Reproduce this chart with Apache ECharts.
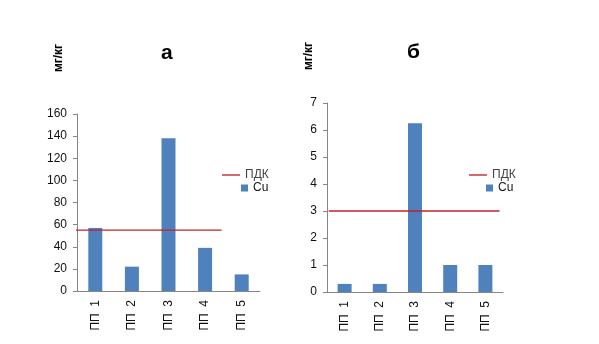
<!DOCTYPE html>
<html>
<head>
<meta charset="utf-8">
<script src="https://cdn.jsdelivr.net/npm/echarts@6/dist/echarts.min.js"></script>
<style>
  html, body { margin: 0; padding: 0; background: #fff; }
  #chartBox { width: 599px; height: 344px; }
</style>
</head>
<body>
<div id="chartBox"></div>
<script>
// категории и значения
var categories = ['ПП  1', 'ПП  2', 'ПП  3', 'ПП  4', 'ПП  5']
var cuA = [57, 22, 138, 39, 15]
var cuB = [0.3, 0.3, 6.25, 1, 1]
var pdkA = 55
var pdkB = 3
// протяжённость линии ПДК в долях категорий
var pdkSpanA = [-0.15, 3.95]
var pdkSpanB = [0.05, 4.9]

var font = '"Liberation Sans", Arial, sans-serif'
var axisColor = '#868686'
var barColor = '#4F81BD'
var lineColor = '#C0202A'

function valueAxis(grid, max, interval) {
  return {
    type: 'value',
    gridIndex: grid,
    min: 0,
    max: max,
    interval: interval,
    splitLine: { show: false },
    axisLine: { show: true, lineStyle: { color: axisColor } },
    axisTick: { show: true, length: 4, lineStyle: { color: axisColor } },
    axisLabel: { fontFamily: font, fontSize: 12, color: '#111', margin: 10 }
  }
}

function catAxis(grid) {
  return {
    type: 'category',
    gridIndex: grid,
    data: categories,
    axisLine: { lineStyle: { color: axisColor } },
    axisTick: { length: 5, lineStyle: { color: axisColor } },
    axisLabel: { rotate: 90, fontFamily: font, fontSize: 12, color: '#111', margin: 9 }
  }
}

function hiddenAxis(grid) {
  return { type: 'value', gridIndex: grid, min: 0, max: 5, show: false }
}

var myChart = echarts.init(document.getElementById('chartBox'))
myChart.setOption({
  animation: false,
  title: [
    { text: 'а', left: 156, top: 38, textStyle: { fontFamily: font, fontSize: 21, fontWeight: 'bold', color: '#000' } },
    { text: 'б', left: 402, top: 37, textStyle: { fontFamily: font, fontSize: 21, fontWeight: 'bold', color: '#000' } }
  ],
  graphic: [
    { type: 'text', x: 59, y: 58, rotation: Math.PI / 2,
      style: { text: 'мг/кг', fontFamily: font, fontSize: 12, fontWeight: 'bold', fill: '#000', align: 'center', verticalAlign: 'middle' } },
    { type: 'text', x: 309, y: 56, rotation: Math.PI / 2,
      style: { text: 'мг/кг', fontFamily: font, fontSize: 12, fontWeight: 'bold', fill: '#000', align: 'center', verticalAlign: 'middle' } }
  ],
  legend: [
    { left: 217, top: 164, data: ['ПДК'], icon: 'path://M0,0 L20,0 L20,1.5 L0,1.5 Z', itemWidth: 18, itemHeight: 1.5, itemGap: 4,
      textStyle: { fontFamily: font, fontSize: 12, color: '#444' } },
    { left: 236, top: 177, data: ['Cu'], icon: 'rect', itemWidth: 7, itemHeight: 7, itemGap: 4,
      textStyle: { fontFamily: font, fontSize: 12, color: '#111' } },
    { left: 464, top: 164, data: ['ПДК '], icon: 'path://M0,0 L20,0 L20,1.5 L0,1.5 Z', itemWidth: 18, itemHeight: 1.5, itemGap: 4,
      formatter: function (n) { return n.trim() },
      textStyle: { fontFamily: font, fontSize: 12, color: '#444' } },
    { left: 481, top: 177, data: ['Cu '], icon: 'rect', itemWidth: 7, itemHeight: 7, itemGap: 4,
      formatter: function (n) { return n.trim() },
      textStyle: { fontFamily: font, fontSize: 12, color: '#111' } }
  ],
  grid: [
    { left: 77, top: 114, width: 183, height: 177 },
    { left: 327, top: 103, width: 176, height: 189 }
  ],
  xAxis: [catAxis(0), catAxis(1), hiddenAxis(0), hiddenAxis(1)],
  yAxis: [valueAxis(0, 160, 20), valueAxis(1, 7, 1)],
  series: [
    { name: 'Cu', type: 'bar', xAxisIndex: 0, yAxisIndex: 0, barWidth: 14, data: cuA, itemStyle: { color: barColor } },
    { name: 'Cu ', type: 'bar', xAxisIndex: 1, yAxisIndex: 1, barWidth: 14, data: cuB, itemStyle: { color: barColor } },
    { name: 'ПДК', type: 'line', xAxisIndex: 2, yAxisIndex: 0, symbol: 'none', clip: false,
      lineStyle: { color: lineColor, width: 1.3 }, itemStyle: { color: lineColor },
      data: pdkSpanA.map(function (x) { return [x, pdkA] }) },
    { name: 'ПДК ', type: 'line', xAxisIndex: 3, yAxisIndex: 1, symbol: 'none', clip: false,
      lineStyle: { color: lineColor, width: 1.3 }, itemStyle: { color: lineColor },
      data: pdkSpanB.map(function (x) { return [x, pdkB] }) }
  ]
})
</script>
</body>
</html>
